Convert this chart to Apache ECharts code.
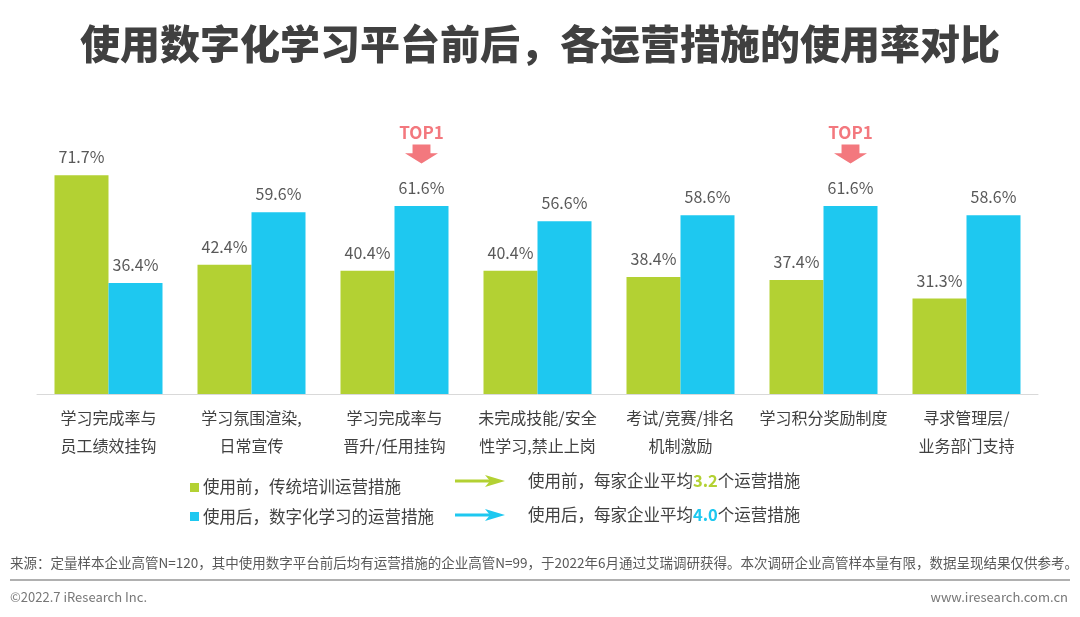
<!DOCTYPE html>
<html>
<head>
<meta charset="utf-8">
<script src="https://cdn.jsdelivr.net/npm/echarts@6/dist/echarts.min.js"></script>
<style>
  html, body { margin: 0; padding: 0; background: #fff; }
  #chart { width: 1080px; height: 617px; }
</style>
</head>
<body>
<div id="chart"></div>
<script>
// 数据
var categories = [
    '学习完成率与\n员工绩效挂钩',
    '学习氛围渲染,\n日常宣传',
    '学习完成率与\n晋升/任用挂钩',
    '未完成技能/安全\n性学习,禁止上岗',
    '考试/竞赛/排名\n机制激励',
    '学习积分奖励制度',
    '寻求管理层/\n业务部门支持'
];
var beforeValues = [71.7, 42.4, 40.4, 40.4, 38.4, 37.4, 31.3];
var afterValues = [36.4, 59.6, 61.6, 56.6, 58.6, 61.6, 58.6];
var topIndexes = [2, 5];
var seriesNames = ['使用前，传统培训运营措施', '使用后，数字化学习的运营措施'];
var avgBefore = '3.2';
var avgAfter = '4.0';

var GREEN = '#B3D133';
var BLUE = '#1EC8F0';
var PINK = '#F3787E';
var FONT = '"Noto Sans CJK SC", "Noto Sans", sans-serif';

var chart = echarts.init(document.getElementById('chart'));

// 图例右侧的箭头
function arrow(y, color) {
    return [
        { type: 'line', shape: { x1: 455, y1: y, x2: 492, y2: y }, style: { stroke: color, lineWidth: 3 } },
        { type: 'polygon', shape: { points: [[485, y - 6], [505, y], [485, y + 6], [490, y]] }, style: { fill: color } }
    ];
}

var option = {
    backgroundColor: '#fff',
    textStyle: { fontFamily: FONT },
    title: {
        text: '使用数字化学习平台前后，各运营措施的使用率对比',
        left: 'center',
        top: 19,
        textStyle: { fontSize: 40, fontWeight: 900, color: '#404040', fontFamily: FONT }
    },
    grid: { left: 37, right: 42, top: 150, bottom: 223 },
    xAxis: {
        type: 'category',
        data: categories,
        axisLine: { lineStyle: { color: '#d9d9d9', width: 1 } },
        axisTick: { show: false },
        axisLabel: { color: '#404040', fontSize: 16, lineHeight: 28, margin: 10, interval: 0, fontFamily: FONT }
    },
    yAxis: {
        type: 'value',
        min: 0,
        max: 80,
        show: false,
        splitLine: { show: false }
    },
    series: [
        {
            name: seriesNames[0],
            type: 'bar',
            data: beforeValues,
            barWidth: 54,
            barGap: '0%',
            itemStyle: { color: GREEN },
            label: {
                show: true, position: 'top', distance: 10,
                formatter: '{c}%', color: '#595959', fontSize: 16, fontFamily: FONT
            }
        },
        {
            name: seriesNames[1],
            type: 'bar',
            data: afterValues,
            barWidth: 54,
            itemStyle: { color: BLUE },
            label: {
                show: true, position: 'top', distance: 10,
                formatter: '{c}%', color: '#595959', fontSize: 16, fontFamily: FONT
            },
            markPoint: {
                symbol: 'path://M8,0 L27,0 L27,9 L35,9 L17.5,20 L0,9 L8,9 Z',
                symbolSize: [33, 19],
                symbolOffset: [0, -52],
                itemStyle: { color: PINK },
                label: {
                    show: true, position: 'top', distance: 4,
                    formatter: 'TOP1', color: PINK, fontSize: 17, fontWeight: 'bold', fontFamily: FONT
                },
                data: topIndexes.map(function (i) {
                    return { coord: [i, afterValues[i]] };
                })
            }
        }
    ],
    graphic: [
        // 图例
        { type: 'rect', shape: { x: 190, y: 483, width: 9, height: 9 }, style: { fill: GREEN } },
        { type: 'text', x: 203, y: 487, style: { text: seriesNames[0], fill: '#404040', font: '16.5px ' + FONT, verticalAlign: 'middle' } },
        { type: 'rect', shape: { x: 190, y: 512, width: 9, height: 9 }, style: { fill: BLUE } },
        { type: 'text', x: 203, y: 517, style: { text: seriesNames[1], fill: '#404040', font: '16.5px ' + FONT, verticalAlign: 'middle' } }
    ].concat(arrow(481, GREEN), arrow(515, BLUE), [
        {
            type: 'text', x: 528, y: 481,
            style: {
                text: '使用前，每家企业平均{g|' + avgBefore + '}个运营措施',
                fill: '#404040', font: '16.5px ' + FONT, verticalAlign: 'middle',
                rich: { g: { fill: GREEN, fontWeight: 'bold', fontSize: 16.5, fontFamily: FONT } }
            }
        },
        {
            type: 'text', x: 528, y: 515,
            style: {
                text: '使用后，每家企业平均{b|' + avgAfter + '}个运营措施',
                fill: '#404040', font: '16.5px ' + FONT, verticalAlign: 'middle',
                rich: { b: { fill: BLUE, fontWeight: 'bold', fontSize: 16.5, fontFamily: FONT } }
            }
        },
        // 页脚
        {
            type: 'text', x: 10, y: 563,
            style: {
                text: '来源：定量样本企业高管N=120，其中使用数字平台前后均有运营措施的企业高管N=99，于2022年6月通过艾瑞调研获得。本次调研企业高管样本量有限，数据呈现结果仅供参考。',
                fill: '#595959', font: '13.5px ' + FONT, verticalAlign: 'middle'
            }
        },
        { type: 'line', shape: { x1: 10, y1: 580, x2: 1070, y2: 580 }, style: { stroke: '#b0b0b0', lineWidth: 2 } },
        { type: 'text', x: 10, y: 597, style: { text: '©2022.7 iResearch Inc.', fill: '#777', font: '13px ' + FONT, verticalAlign: 'middle' } },
        { type: 'text', x: 1068, y: 597, style: { text: 'www.iresearch.com.cn', fill: '#777', font: '13px ' + FONT, verticalAlign: 'middle', align: 'right' } }
    ])
};

chart.setOption(option);
</script>
</body>
</html>
